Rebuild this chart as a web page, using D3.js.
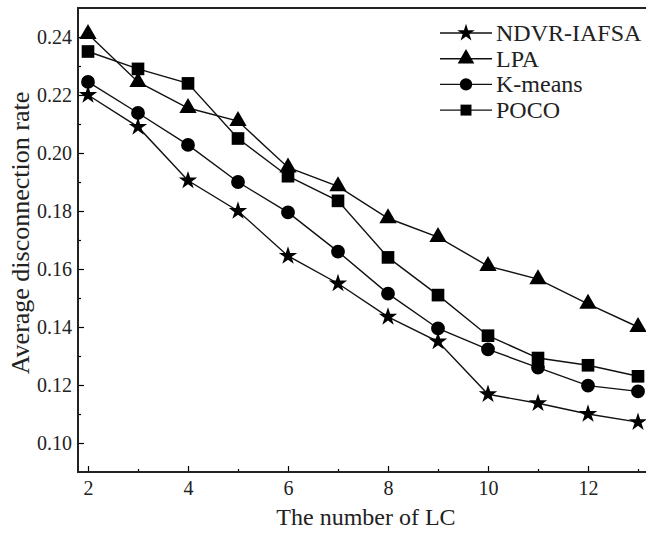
<!DOCTYPE html>
<html>
<head>
<meta charset="utf-8">
<script src="https://cdn.jsdelivr.net/npm/d3@7"></script>
<style>
  body { margin: 0; background: #fff; }
  svg { display: block; font-family: "Liberation Serif", "Times New Roman", serif; }
  svg text { font-family: "Liberation Serif", "Times New Roman", serif; }
</style>
</head>
<body>
<svg></svg>
<script>
let lcCounts = [2, 3, 4, 5, 6, 7, 8, 9, 10, 11, 12, 13]
let ndvrValues = [0.220, 0.209, 0.1905, 0.180, 0.1645, 0.155, 0.1435, 0.135, 0.1168, 0.1137, 0.110, 0.1072]
let lpaValues = [0.241, 0.2245, 0.2155, 0.211, 0.195, 0.1885, 0.1775, 0.171, 0.161, 0.1565, 0.148, 0.140]
let kmeansValues = [0.2245, 0.2138, 0.2028, 0.190, 0.1795, 0.166, 0.1515, 0.1395, 0.1323, 0.126, 0.1198, 0.1178]
let pocoValues = [0.235, 0.229, 0.224, 0.205, 0.192, 0.1835, 0.164, 0.151, 0.137, 0.1293, 0.1268, 0.123]

let seriesNames = ['NDVR-IAFSA', 'LPA', 'K-means', 'POCO']
let seriesMarkers = ['star', 'triangle', 'circle', 'square']
let xTickLabels = [2, 4, 6, 8, 10, 12]
let xMinorTicks = [3, 5, 7, 9, 11, 13]
let yTickLabels = [0.10, 0.12, 0.14, 0.16, 0.18, 0.20, 0.22, 0.24]
let yMinorTicks = [0.11, 0.13, 0.15, 0.17, 0.19, 0.21, 0.23]

let width = 646
let height = 536
let plotLeft = 78
let plotRight = 660
let plotTop = 8
let plotBottom = 472

let svg = d3.select('svg')
    .attr('width', width)
    .attr('height', height)

let xScale = d3.scaleLinear()
    .domain([1.8, 1.8 + (plotRight - plotLeft) / 50])
    .range([plotLeft, plotRight])

let yScale = d3.scaleLinear()
    .domain([0.09, 0.25])
    .range([plotBottom, plotTop])

let series = seriesNames.map((name, i) => {
    return {
        name: name,
        marker: seriesMarkers[i],
        values: [ndvrValues, lpaValues, kmeansValues, pocoValues][i]
    }
})

let symbolFor = (m) => {
    if (m == 'star') return d3.symbol().type(d3.symbolStar).size(105)
    if (m == 'triangle') return d3.symbol().type(d3.symbolTriangle).size(130)
    if (m == 'circle') return d3.symbol().type(d3.symbolCircle).size(150)
    return d3.symbol().type(d3.symbolSquare).size(160)
}

// axes
let xAxis = d3.axisBottom(xScale)
    .tickValues(xTickLabels)
    .tickSize(-6)
    .tickPadding(9)
    .tickFormat(d3.format('d'))
svg.append('g')
    .attr('transform', 'translate(0,' + plotBottom + ')')
    .call(xAxis)
let xMinor = d3.axisBottom(xScale).tickValues(xMinorTicks).tickSize(-3).tickFormat('')
svg.append('g')
    .attr('transform', 'translate(0,' + plotBottom + ')')
    .call(xMinor)

let yAxis = d3.axisLeft(yScale)
    .tickValues(yTickLabels)
    .tickSize(-6)
    .tickPadding(6)
    .tickFormat(d3.format('.2f'))
svg.append('g')
    .attr('transform', 'translate(' + plotLeft + ',0)')
    .call(yAxis)
let yMinor = d3.axisLeft(yScale).tickValues(yMinorTicks).tickSize(-3).tickFormat('')
svg.append('g')
    .attr('transform', 'translate(' + plotLeft + ',0)')
    .call(yMinor)

svg.selectAll('g')
    .attr('font-family', null)
    .attr('font-size', null)
svg.selectAll('.domain').remove()
svg.selectAll('.tick line').attr('stroke', '#000').attr('stroke-width', 1.2)
svg.selectAll('.tick text')
    .attr('fill', '#222')
    .style('font-size', '20px')

// frame (left, top, bottom)
svg.append('path')
    .attr('d', 'M' + plotRight + ',' + plotTop + 'H' + plotLeft + 'V' + plotBottom + 'H' + plotRight)
    .attr('fill', 'none')
    .attr('stroke', '#222')
    .attr('stroke-width', 2)

// lines and markers
let line = d3.line()
    .x((d, i) => xScale(lcCounts[i]))
    .y((d) => yScale(d))

series.forEach((s) => {
    svg.append('path')
        .datum(s.values)
        .attr('d', line)
        .attr('fill', 'none')
        .attr('stroke', '#111')
        .attr('stroke-width', 1.4)
    svg.selectAll(null)
        .data(s.values)
        .enter()
        .append('path')
        .attr('d', symbolFor(s.marker))
        .attr('transform', (d, i) => 'translate(' + xScale(lcCounts[i]) + ',' + yScale(d) + ')')
        .attr('fill', '#000')
})

// legend
let legend = svg.append('g').attr('transform', 'translate(440,33)')
series.forEach((s, i) => {
    let row = legend.append('g').attr('transform', 'translate(0,' + (i * 25.7) + ')')
    row.append('line')
        .attr('x1', 0).attr('x2', 52)
        .attr('stroke', '#111').attr('stroke-width', 1.4)
    row.append('path')
        .attr('d', symbolFor(s.marker).size(s.marker == 'star' ? 95 : 120)())
        .attr('transform', 'translate(26,0)')
        .attr('fill', '#000')
    row.append('text')
        .attr('x', 56)
        .attr('y', 8)
        .attr('fill', '#222')
        .style('font-size', '24px')
        .text(s.name)
})

// axis titles
svg.append('text')
    .attr('x', 366)
    .attr('y', 525)
    .attr('text-anchor', 'middle')
    .attr('fill', '#222')
    .style('font-size', '24px')
    .text('The number of LC')

svg.append('text')
    .attr('transform', 'translate(29,233) rotate(-90)')
    .attr('text-anchor', 'middle')
    .attr('fill', '#222')
    .style('font-size', '26px')
    .text('Average disconnection rate')
</script>
</body>
</html>
